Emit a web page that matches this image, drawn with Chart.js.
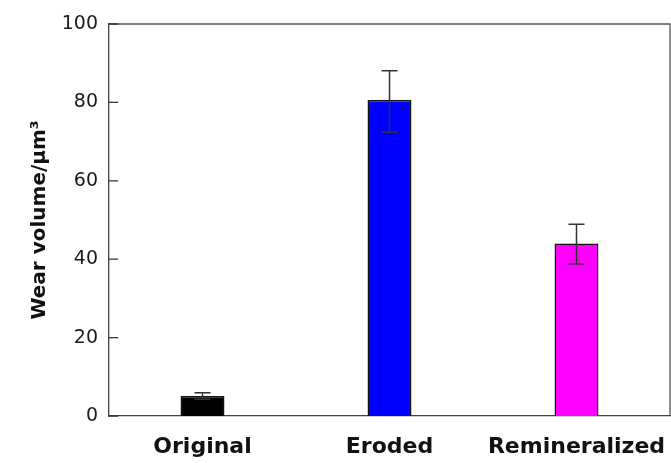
<!DOCTYPE html>
<html>
<head>
<meta charset="utf-8">
<script src="https://cdn.jsdelivr.net/npm/chart.js@4"></script>
<style>
html,body{margin:0;padding:0;background:#fff;}
#wrap{width:671px;height:463px;position:relative;}
</style>
</head>
<body>
<div id="wrap"><canvas id="c" width="671" height="463"></canvas></div>
<script>
const categories = ['Original', 'Eroded', 'Remineralized'];
const wearVolume = [5.1, 80.6, 44.0];
const errPlus = [0.8, 7.5, 4.9];
const errMinus = [0.8, 8.2, 5.2];
const barColors = ['#000000', '#0000ff', '#ff00ff'];
const yTicks = [0, 20, 40, 60, 80, 100];
const yTitle = 'Wear volume/\u03bcm\u00b3';

const frameAndTicks = {
  id: 'frameAndTicks',
  afterDatasetsDraw(chart) {
    const {ctx, chartArea: a, scales: {x, y}} = chart;
    ctx.save();
    // error bars
    ctx.strokeStyle = '#333';
    ctx.lineWidth = 1.5;
    const meta = chart.getDatasetMeta(0);
    meta.data.forEach((bar, i) => {
      const cx = bar.x;
      const yt = y.getPixelForValue(wearVolume[i] + errPlus[i]);
      const yb = y.getPixelForValue(wearVolume[i] - errMinus[i]);
      const cap = 8;
      ctx.beginPath();
      ctx.moveTo(cx, yt); ctx.lineTo(cx, yb);
      ctx.moveTo(cx - cap, yt); ctx.lineTo(cx + cap, yt);
      ctx.moveTo(cx - cap, yb); ctx.lineTo(cx + cap, yb);
      ctx.stroke();
    });
    // frame
    ctx.strokeStyle = '#555';
    ctx.lineWidth = 1.3;
    ctx.beginPath();
    ctx.moveTo(a.left, a.top); ctx.lineTo(a.right, a.top); ctx.lineTo(a.right, a.bottom);
    ctx.stroke();
    // inward ticks
    ctx.strokeStyle = '#333';
    ctx.beginPath();
    yTicks.forEach(v => {
      const py = y.getPixelForValue(v);
      ctx.moveTo(a.left, py); ctx.lineTo(a.left + 9, py);
    });
    ctx.stroke();
    ctx.restore();
  }
};

new Chart(document.getElementById('c'), {
  type: 'bar',
  data: {
    labels: categories,
    datasets: [{
      data: wearVolume,
      backgroundColor: barColors,
      borderColor: '#111',
      borderWidth: 1.5,
      barPercentage: 0.235,
      categoryPercentage: 1.0
    }]
  },
  options: {
    responsive: false,
    animation: false,
    layout: {padding: {top: 24, right: 1, left: 0, bottom: 0}},
    plugins: {legend: {display: false}, tooltip: {enabled: false}},
    scales: {
      x: {
        grid: {display: false, drawTicks: false},
        border: {display: true, color: '#444', width: 1.3},
        ticks: {
          padding: 18,
          color: '#111',
          maxRotation: 0,
          autoSkip: false,
          font: {family: 'DejaVu Sans', size: 22, weight: 'bold'}
        },
        afterFit(s) { s.height = 47; s.paddingRight = 0; s.paddingLeft = 0; }
      },
      y: {
        min: 0, max: 100,
        grid: {display: false, drawTicks: false},
        border: {display: true, color: '#444', width: 1.3},
        ticks: {
          stepSize: 20,
          padding: 11,
          color: '#1a1a1a',
          font: {family: 'DejaVu Sans', size: 19}
        },
        title: {
          display: true,
          text: yTitle,
          color: '#111',
          font: {family: 'DejaVu Sans', size: 20, weight: 'bold'},
          padding: {top: 28, bottom: 0}
        },
        afterFit(s) { s.width = 109; s.paddingTop = 0; s.paddingBottom = 0; }
      }
    }
  },
  plugins: [frameAndTicks]
});
</script>
</body>
</html>
